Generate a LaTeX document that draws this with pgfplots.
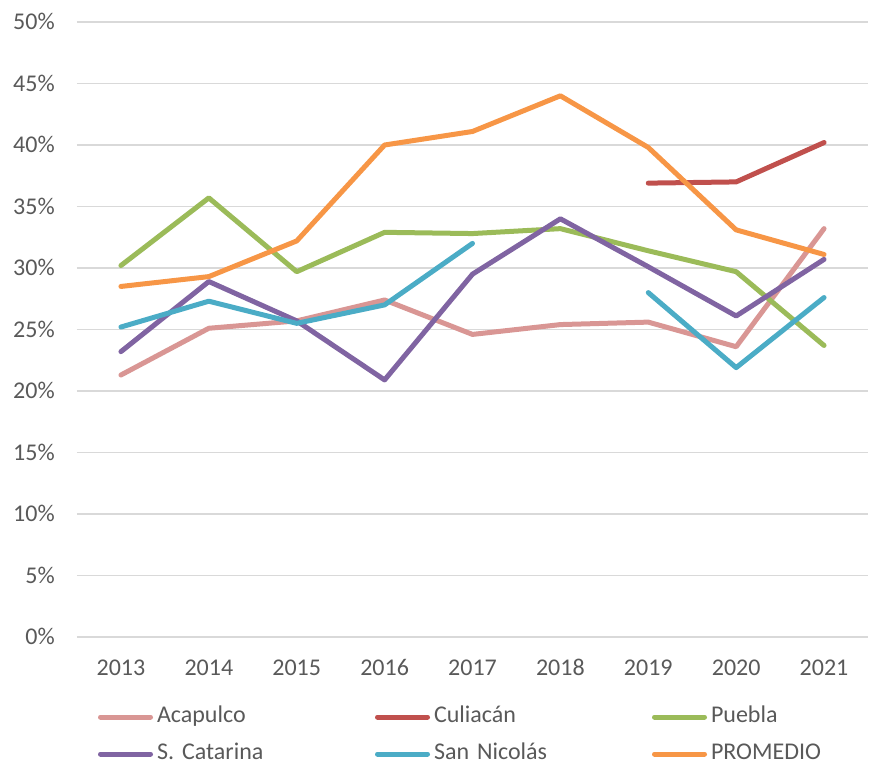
\documentclass[border=0pt]{standalone}
\usepackage{pgfplots}
\pgfplotsset{compat=1.18}
\usepackage{fontspec}
\setmainfont{Carlito}
\definecolor{acap}{HTML}{D99694}
\definecolor{culi}{HTML}{C0504D}
\definecolor{pueb}{HTML}{9BBB59}
\definecolor{scat}{HTML}{8064A2}
\definecolor{sann}{HTML}{4BACC6}
\definecolor{prom}{HTML}{F79646}
\definecolor{textgray}{HTML}{595959}
\definecolor{gridgray}{HTML}{D9D9D9}
\begin{document}
\begin{tikzpicture}
\useasboundingbox (-57.75pt,-97.5pt) rectangle (601.5pt,477.75pt);
\begin{axis}[
  scale only axis, width=593.25pt, height=461.25pt,
  xmin=2012.5, xmax=2021.5, ymin=0, ymax=50,
  xtick={2013,2014,2015,2016,2017,2018,2019,2020,2021},
  ytick={0,5,10,15,20,25,30,35,40,45,50},
  yticklabel={\pgfmathprintnumber{\tick}\%},
  ymajorgrids, major grid style={draw=gridgray, line width=1pt},
  axis line style={draw=none}, tick style={draw=none},
  tick label style={font=\fontsize{18pt}{21pt}\selectfont, text=textgray},
  xticklabel style={anchor=base, inner sep=0pt, yshift=-29pt},
  yticklabel style={anchor=base east, inner sep=0pt, xshift=-16.5pt, yshift=-5.7pt},
  unbounded coords=jump,
  every axis plot/.append style={line width=3.75pt, line cap=round, line join=round, no markers},
  legend columns=3,
  legend cell align=left,
  legend style={at={(axis description cs:0.02656,-0.1602)}, anchor=west, draw=none, fill=none, inner sep=0pt, outer sep=0pt, row sep=10.25pt, column sep=0pt, font=\fontsize{18pt}{21pt}\selectfont, text=textgray, nodes={text width=160.5pt, inner xsep=3pt, inner ysep=0pt, text height=13pt, text depth=4.5pt, align=left}},
  legend image code/.code={\draw[#1] (0pt,0pt) -- (37.5pt,0pt);},
  /pgf/number format/assume math mode=true,
  /pgf/number format/1000 sep={},
]
\addplot[color=acap] coordinates {(2013,21.3) (2014,25.1) (2015,25.7) (2016,27.4) (2017,24.6) (2018,25.4) (2019,25.6) (2020,23.6) (2021,33.2)};
\addlegendentry{Acapulco}
\addplot[color=culi] coordinates {(2019,36.9) (2020,37.0) (2021,40.2)};
\addlegendentry{Culiacán}
\addplot[color=pueb] coordinates {(2013,30.2) (2014,35.7) (2015,29.7) (2016,32.9) (2017,32.8) (2018,33.2) (2019,31.4) (2020,29.7) (2021,23.7)};
\addlegendentry{Puebla}
\addplot[color=scat] coordinates {(2013,23.2) (2014,28.9) (2015,25.7) (2016,20.9) (2017,29.5) (2018,34.0) (2019,30.1) (2020,26.1) (2021,30.7)};
\addlegendentry{S. Catarina}
\addplot[color=sann] coordinates {(2013,25.2) (2014,27.3) (2015,25.5) (2016,27.0) (2017,32.0) (2018,nan) (2019,28.0) (2020,21.9) (2021,27.6)};
\addlegendentry{San Nicolás}
\addplot[color=prom] coordinates {(2013,28.5) (2014,29.3) (2015,32.2) (2016,40.0) (2017,41.1) (2018,44.0) (2019,39.8) (2020,33.1) (2021,31.1)};
\addlegendentry{PROMEDIO}
\end{axis}
\end{tikzpicture}
\end{document}
